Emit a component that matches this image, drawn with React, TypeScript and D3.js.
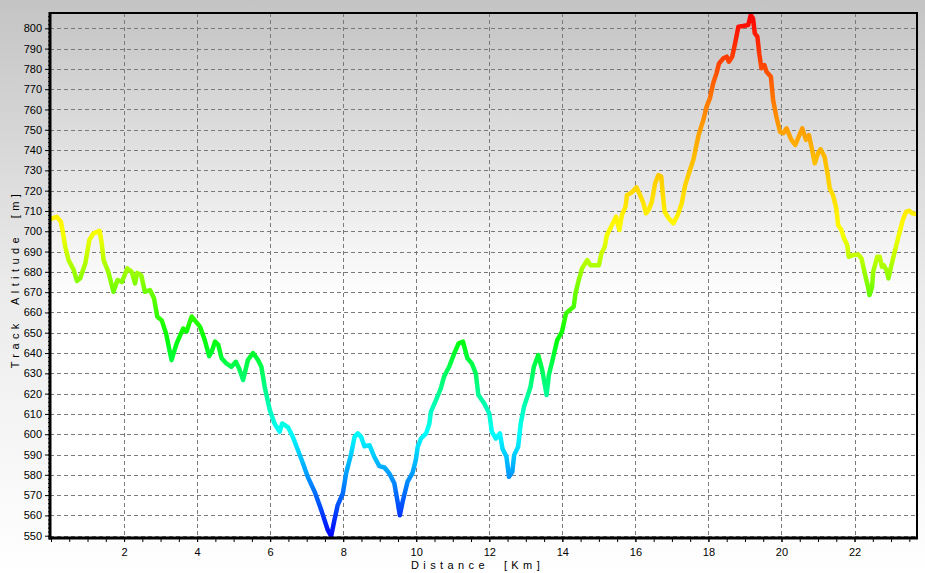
import { useEffect, useRef } from "react"
import * as d3 from "d3"

// track profile: distance (km) and altitude (m)
const distanceKm = [
  0.0, 0.04, 0.16, 0.27, 0.33, 0.39, 0.48, 0.62, 0.71, 0.8, 0.94, 1.05, 1.16, 1.33, 1.39, 1.44, 1.57, 1.71, 1.82,
  1.94, 2.09, 2.21, 2.3, 2.36, 2.47, 2.57, 2.71, 2.82, 2.91, 3.03, 3.15, 3.3, 3.44, 3.62, 3.71, 3.85, 4.08, 4.21,
  4.33, 4.4, 4.49, 4.58, 4.67, 4.8, 4.94, 5.06, 5.15, 5.26, 5.39, 5.53, 5.67, 5.76, 5.85, 5.99, 6.12, 6.26, 6.33,
  6.49, 6.62, 6.76, 6.9, 7.03, 7.22, 7.4, 7.58, 7.67, 7.76, 7.85, 7.99, 8.08, 8.22, 8.31, 8.4, 8.49, 8.58, 8.72,
  8.85, 8.99, 9.13, 9.26, 9.4, 9.49, 9.55, 9.63, 9.76, 9.9, 9.99, 10.04, 10.13, 10.27, 10.36, 10.4, 10.54, 10.67,
  10.76, 10.9, 11.04, 11.16, 11.28, 11.4, 11.52, 11.63, 11.7, 11.86, 12.0, 12.07, 12.18, 12.29, 12.36, 12.47, 12.54,
  12.63, 12.68, 12.79, 12.86, 12.95, 13.04, 13.13, 13.22, 13.34, 13.45, 13.57, 13.63, 13.72, 13.86, 13.99, 14.1,
  14.22, 14.31, 14.36, 14.45, 14.54, 14.68, 14.77, 15.0, 15.07, 15.16, 15.22, 15.36, 15.47, 15.56, 15.63, 15.73,
  15.77, 15.89, 16.03, 16.13, 16.22, 16.29, 16.36, 16.45, 16.54, 16.63, 16.71, 16.74, 16.8, 16.91, 17.04, 17.16,
  17.27, 17.36, 17.45, 17.59, 17.73, 17.86, 17.95, 18.04, 18.13, 18.22, 18.29, 18.41, 18.5, 18.56, 18.65, 18.73,
  18.82, 18.95, 19.09, 19.16, 19.22, 19.27, 19.34, 19.39, 19.45, 19.53, 19.59, 19.71, 19.77, 19.86, 19.96, 20.05,
  20.14, 20.27, 20.38, 20.47, 20.57, 20.67, 20.75, 20.84, 20.91, 21.0, 21.07, 21.18, 21.26, 21.32, 21.41, 21.5,
  21.55, 21.64, 21.71, 21.8, 21.84, 21.96, 22.1, 22.19, 22.29, 22.37, 22.41, 22.48, 22.51, 22.62, 22.69, 22.75,
  22.8, 22.87, 22.93, 23.0, 23.11, 23.2, 23.32, 23.41, 23.5, 23.59, 23.66,
]

const altitudeM = [
  706, 706.4, 707.1, 704.7, 699, 692.4, 685.8, 681, 675.5, 676.8, 684.2, 695.7, 699, 700.2, 694, 685.8, 680, 670.2,
  676, 675, 681.7, 680, 674.3, 679.5, 678.4, 670.2, 671, 667, 657.9, 656.2, 649.7, 636.5, 644.8, 652.1, 650.5, 658,
  653, 646.4, 638.5, 640.6, 645.6, 644, 637.4, 634.9, 633.2, 635.7, 632.4, 626.7, 636.5, 640, 636.5, 633.2, 623.4,
  611.9, 605.3, 601.2, 605.3, 603.4, 598.7, 592.2, 585.6, 579, 571.6, 562.6, 552.7, 549.8, 557.7, 565.1, 570.8,
  580.7, 590.5, 598.7, 600.4, 598.7, 594.1, 594.6, 588.9, 584.3, 583.6, 580.7, 575.8, 566.7, 560.1, 567, 576.5, 581,
  587.5, 593.8, 597.9, 600.4, 605.3, 611, 616.8, 622.5, 628.3, 633.2, 639.8, 644.8, 645.6, 637.4, 634.9, 630, 619.3,
  615.2, 610.2, 601.2, 597.9, 600.4, 593, 588.9, 579, 581.5, 589.7, 593.8, 605.3, 613.5, 618.4, 623.4, 633.2, 639,
  631.6, 619.3, 629.1, 635.7, 646.4, 650.5, 659.5, 661.5, 662.8, 669.4, 676, 681.7, 685.8, 683.3, 683.3, 689.1,
  692.4, 698.1, 703.1, 707.1, 700.6, 708, 712.1, 717.8, 719, 721.6, 717.8, 713.8, 708.8, 710.4, 714.5, 723.6, 727.7,
  726.9, 720.3, 709.6, 706.4, 703.9, 708, 713.8, 722.5, 727.7, 735.5, 747.4, 754.8, 761.4, 765.5, 772.9, 777.8,
  782.7, 785.2, 786, 783.5, 786, 792.6, 800.8, 801.1, 801.6, 806.6, 804.9, 797.5, 795.9, 787.7, 780.3, 781.9,
  778.6, 776.1, 764.7, 756.4, 749, 748.3, 750.7, 745, 742.5, 746.6, 750.7, 745, 747.4, 740, 733.5, 738.4, 740.4,
  736.7, 728.5, 721.1, 717.8, 711.3, 703.1, 700.6, 696.5, 693.2, 687.4, 688.3, 688.6, 686.6, 678.4, 672.6, 668.6,
  672.6, 680, 687.4, 687.4, 682.5, 683.3, 680.9, 676.8, 682.5, 690.7, 697.1, 705.5, 709.6, 710.1, 708.8, 708.5,
]

const xTickLabels = [2, 4, 6, 8, 10, 12, 14, 16, 18, 20, 22]
const yTickLabels = [550, 560, 570, 580, 590, 600, 610, 620, 630, 640, 650, 660, 670, 680, 690, 700, 710, 720, 730, 740, 750, 760, 770, 780, 790, 800]

// altitude colour ramp: blue (low) -> cyan -> green -> yellow -> red (high)
const rampStops = [549, 600, 648, 700, 750, 807]
const rampColors = ["#0000ff", "#00ffff", "#00ff00", "#ffff00", "#ffa000", "#ff0000"]

const WIDTH = 925
const HEIGHT = 573

export default function App() {
  const svgRef = useRef<SVGSVGElement>(null)

  useEffect(() => {
    if (!svgRef.current) return
    const root = d3.select(svgRef.current)
    root.selectAll("*").remove()

    const left = 50
    const right = 917
    const top = 13
    const bottom = 538
    const font = "'Liberation Sans', Arial, sans-serif"

    const x = d3.scaleLinear().domain([0, 23.71]).range([51, 917])
    const y = d3.scaleLinear().domain([550, 800]).range([535.7, 28.3])

    const defs = root.append("defs")

    const outerGrad = defs.append("linearGradient").attr("id", "outerBg").attr("x1", 0).attr("x2", 0).attr("y1", 0).attr("y2", 1)
    outerGrad.append("stop").attr("offset", 0).attr("stop-color", "#c4c4c4")
    outerGrad.append("stop").attr("offset", 0.5).attr("stop-color", "#ebebeb")
    outerGrad.append("stop").attr("offset", 1).attr("stop-color", "#ffffff")

    const plotGrad = defs.append("linearGradient").attr("id", "plotBg").attr("x1", 0).attr("x2", 0).attr("y1", 0).attr("y2", 1)
    plotGrad.append("stop").attr("offset", 0).attr("stop-color", "#c5c5c5")
    plotGrad.append("stop").attr("offset", 0.55).attr("stop-color", "#ffffff")
    plotGrad.append("stop").attr("offset", 1).attr("stop-color", "#ffffff")

    const color = d3.scaleLinear<string>().domain(rampStops).range(rampColors)
    const lo = rampStops[0]
    const hi = rampStops[rampStops.length - 1]
    const lineGrad = defs
      .append("linearGradient")
      .attr("id", "altGrad")
      .attr("gradientUnits", "userSpaceOnUse")
      .attr("x1", 0)
      .attr("x2", 0)
      .attr("y1", y(lo))
      .attr("y2", y(hi))
    d3.range(0, 1.0001, 0.025).forEach((t) => {
      lineGrad
        .append("stop")
        .attr("offset", t)
        .attr("stop-color", color(lo + t * (hi - lo)))
    })

    defs
      .append("clipPath")
      .attr("id", "plotClip")
      .append("rect")
      .attr("x", left)
      .attr("y", top)
      .attr("width", right - left)
      .attr("height", bottom - top)

    // backgrounds
    root.append("rect").attr("width", WIDTH).attr("height", HEIGHT).attr("fill", "url(#outerBg)")
    root
      .append("rect")
      .attr("x", left)
      .attr("y", top)
      .attr("width", right - left)
      .attr("height", bottom - top)
      .attr("fill", "url(#plotBg)")

    // dashed grid
    const grid = root.append("g").attr("stroke", "#7a7a7a").attr("stroke-width", 1).attr("stroke-dasharray", "4,3")
    grid
      .selectAll("line.h")
      .data(yTickLabels)
      .enter()
      .append("line")
      .attr("x1", left)
      .attr("x2", right)
      .attr("y1", (d) => Math.round(y(d)) + 0.5)
      .attr("y2", (d) => Math.round(y(d)) + 0.5)
    grid
      .selectAll("line.v")
      .data(xTickLabels)
      .enter()
      .append("line")
      .attr("x1", (d) => Math.round(x(d)) + 0.5)
      .attr("x2", (d) => Math.round(x(d)) + 0.5)
      .attr("y1", top)
      .attr("y2", bottom)

    // altitude profile
    const pts = distanceKm.map((d, i) => [d, altitudeM[i]] as [number, number])
    const line = d3
      .line<[number, number]>()
      .x((d) => x(d[0]))
      .y((d) => y(d[1]))
    root
      .append("path")
      .datum(pts)
      .attr("clip-path", "url(#plotClip)")
      .attr("fill", "none")
      .attr("stroke", "url(#altGrad)")
      .attr("stroke-width", 4.5)
      .attr("stroke-linejoin", "round")
      .attr("stroke-linecap", "round")
      .attr("d", line)

    // frame
    const frame = root.append("g").attr("stroke", "#000")
    frame.append("line").attr("x1", left).attr("x2", right + 1).attr("y1", top).attr("y2", top).attr("stroke-width", 2)
    frame.append("line").attr("x1", right).attr("x2", right).attr("y1", top).attr("y2", bottom).attr("stroke-width", 2)

    // y axis
    const yAxis = root.append("g").attr("transform", `translate(${left},0)`)
    yAxis
      .call(
        d3
          .axisLeft(y)
          .tickValues(d3.range(550, 807, 2))
          .tickSize(2)
          .tickFormat(() => ""),
      )
      .call((g) => g.select(".domain").remove())
    yAxis
      .append("g")
      .call(
        d3
          .axisLeft(y)
          .tickValues(yTickLabels)
          .tickSize(5)
          .tickPadding(3)
          .tickFormat((d) => String(d)),
      )
      .call((g) => g.select(".domain").remove())
      .call((g) => g.selectAll("text").attr("font-family", font).attr("font-size", 11).attr("fill", "#000"))
    root.append("line").attr("x1", left).attr("x2", left).attr("y1", top - 1).attr("y2", bottom + 1.5).attr("stroke", "#000").attr("stroke-width", 3)

    // x axis
    const xAxis = root.append("g").attr("transform", `translate(0,${bottom})`)
    xAxis
      .call(
        d3
          .axisBottom(x)
          .tickValues(d3.range(0, 23.6, 0.5))
          .tickSize(4)
          .tickFormat(() => ""),
      )
      .call((g) => g.select(".domain").remove())
    xAxis
      .append("g")
      .call(
        d3
          .axisBottom(x)
          .tickValues(xTickLabels)
          .tickSize(4)
          .tickPadding(6)
          .tickFormat((d) => String(d)),
      )
      .call((g) => g.select(".domain").remove())
      .call((g) => g.selectAll("text").attr("font-family", font).attr("font-size", 11).attr("fill", "#000"))
    root.append("line").attr("x1", left - 1.5).attr("x2", right + 1).attr("y1", bottom).attr("y2", bottom).attr("stroke", "#000").attr("stroke-width", 3)

    // axis titles
    root
      .append("text")
      .attr("x", 411)
      .attr("y", 569)
      .attr("font-family", font)
      .attr("font-size", 11)
      .attr("letter-spacing", 4.4)
      .attr("fill", "#000")
      .style("white-space", "pre")
      .text("Distance  [Km]")
    root
      .append("text")
      .attr("transform", "translate(18.5,279) rotate(-90)")
      .attr("text-anchor", "middle")
      .attr("font-family", font)
      .attr("font-size", 11)
      .attr("letter-spacing", 4.4)
      .attr("fill", "#000")
      .style("white-space", "pre")
      .text("Track  Altitude  [m]")
  }, [])

  return (
    <div style={{ position: "fixed", left: 0, top: 0, width: WIDTH, height: HEIGHT }}>
      <svg ref={svgRef} width={WIDTH} height={HEIGHT} style={{ display: "block" }}></svg>
    </div>
  )
}
